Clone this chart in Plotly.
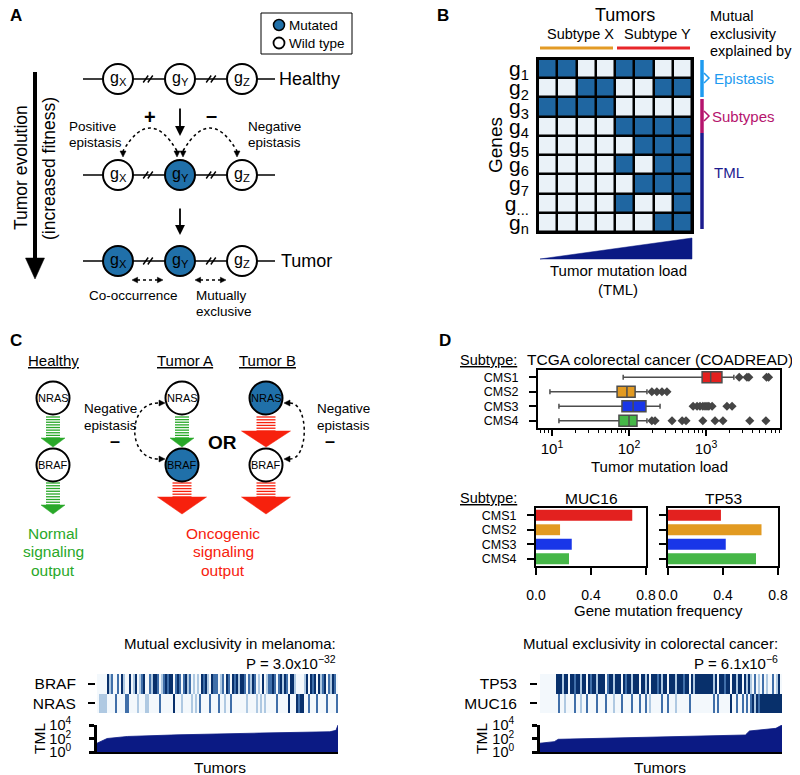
import plotly.graph_objects as go

W, H = 800, 775
OFF = 8  # page body margin of the browser
FW, FH = W - OFF, H - OFF
FONT = "Liberation Sans, Arial, Helvetica, sans-serif"
MUT = "#2070a9"
NAVY = "#0b1a84"

# ---------------- data ----------------
gene_labels = ["g<sub>1</sub>", "g<sub>2</sub>", "g<sub>3</sub>", "g<sub>4</sub>", "g<sub>5</sub>",
               "g<sub>6</sub>", "g<sub>7</sub>", "g<sub>...</sub>", "g<sub>n</sub>"]
tumors_B = [0, 1, 2, 3, 4, 5, 6, 7]
mutation_matrix = [
    [1, 1, 0, 0, 1, 1, 0, 0],
    [0, 0, 1, 1, 0, 0, 1, 1],
    [1, 1, 1, 1, 0, 0, 0, 0],
    [0, 0, 0, 0, 1, 1, 1, 1],
    [0, 0, 0, 0, 0, 1, 1, 1],
    [0, 0, 0, 0, 1, 0, 1, 1],
    [0, 0, 0, 0, 0, 1, 1, 1],
    [0, 0, 0, 0, 1, 0, 0, 1],
    [0, 0, 0, 0, 0, 0, 1, 1],
]

subtypes = ["CMS1", "CMS2", "CMS3", "CMS4"]
subtype_colors = ["#e3211f", "#e29a21", "#1936e8", "#46b748"]
tml_low = [84, 9.4, 12.3, 12.3]
tml_q1 = [890, 70, 81, 74]
tml_median = [1150, 94, 113, 100]
tml_q3 = [1610, 120, 166, 127]
tml_high = [2300, 171, 253, 171]
tml_outliers = [
    [2700, 3400, 3600, 6100, 6500],
    [198, 230, 268, 311],
    [680, 765, 835, 910, 970, 1030, 1090, 1200, 1870, 2180],
    [198, 218, 362, 490, 550, 910, 1310, 1660, 3700, 6000],
]
muc16_freq = [0.70, 0.175, 0.26, 0.24]
tp53_freq = [0.385, 0.68, 0.42, 0.64]

braf_mel = [0, 0, 0, 0, 0, 3, 1, 2, 0, 0, 2, 0, 3, 1, 0, 0, 3, 0, 1, 3,
            0, 1, 2, 3, 0, 0, 2, 1, 3, 3, 2, 0, 1, 2, 3, 2, 3, 3, 0, 2,
            3, 2, 0, 2, 3, 1, 2, 0, 1, 0, 1, 0, 3, 2, 3, 1, 0, 3, 2, 2,
            0, 1, 2, 0, 3, 2, 0, 3, 2, 3, 1, 3, 3, 2, 0, 2, 1, 3, 2, 0,
            1, 0, 3, 0, 1, 2, 2, 3, 2, 0, 2, 3, 1, 3, 2, 0, 3, 3, 1, 0,
            0, 0, 0, 1, 3, 0, 3, 2, 3, 0, 3, 1, 2, 3, 0, 2, 1, 3, 2, 0]
nras_mel = [0, 1, 1, 1, 1, 0, 0, 0, 0, 2, 0, 0, 0, 0, 2, 2, 0, 0, 0, 0,
            1, 0, 0, 0, 1, 1, 0, 0, 0, 0, 0, 2, 0, 0, 0, 0, 0, 0, 3, 0,
            0, 0, 1, 0, 0, 0, 0, 1, 0, 1, 0, 2, 0, 0, 0, 0, 2, 0, 0, 0,
            2, 0, 0, 1, 0, 0, 2, 0, 0, 0, 0, 0, 0, 0, 1, 0, 0, 0, 0, 1,
            0, 1, 0, 1, 0, 0, 0, 0, 0, 2, 0, 0, 0, 0, 0, 3, 0, 0, 0, 3,
            2, 3, 3, 0, 0, 2, 0, 0, 0, 2, 0, 0, 0, 0, 2, 0, 0, 0, 0, 2]
tp53_crc = [0, 0, 0, 0, 0, 0, 0, 0, 3, 3, 3, 1, 3, 3, 0, 3, 3, 2, 3, 3,
            1, 3, 3, 0, 3, 2, 3, 3, 1, 3, 3, 3, 0, 2, 3, 3, 1, 3, 3, 3,
            0, 3, 2, 3, 3, 1, 3, 3, 3, 0, 3, 3, 1, 3, 0, 3, 3, 3, 2, 3,
            1, 3, 3, 0, 3, 3, 3, 1, 3, 3, 3, 2, 3, 3, 0, 3, 1, 3, 3, 3,
            3, 3, 3, 3, 3, 3, 1, 3, 0, 3, 3, 2, 3, 3, 0, 3, 3, 1, 3, 3,
            0, 3, 1, 3, 1, 0, 2, 0, 1, 0, 2, 0, 1, 0, 0, 2, 0, 1, 3, 0]
muc16_crc = [0, 0, 0, 0, 0, 0, 0, 0, 0, 2, 0, 0, 1, 0, 0, 0, 0, 2, 0, 0,
             1, 0, 0, 2, 0, 0, 0, 0, 2, 0, 0, 0, 2, 0, 0, 0, 1, 0, 0, 0,
             2, 0, 0, 0, 0, 2, 0, 0, 0, 2, 0, 0, 2, 0, 1, 0, 0, 0, 0, 0,
             2, 0, 0, 2, 0, 0, 0, 1, 0, 0, 0, 0, 0, 0, 2, 0, 0, 0, 0, 0,
             0, 0, 0, 0, 0, 0, 2, 0, 2, 0, 0, 0, 0, 0, 3, 0, 0, 2, 0, 0,
             2, 0, 2, 0, 2, 3, 1, 3, 2, 3, 3, 3, 3, 3, 3, 3, 3, 3, 3, 3]
tumor_idx = list(range(120))
tml_mel_rank = [0, 5, 15, 40, 80, 115, 118, 119]
tml_mel_value = [20, 100, 200, 350, 630, 1000, 1600, 10000]
tml_crc_rank = [0, 7, 9, 46, 101, 103, 116, 119]
tml_crc_value = [20, 34, 76, 150, 330, 1300, 3200, 10000]

# ---------------- helpers ----------------
shapes, annotations = [], []


def txt(x, y, s, size=14, color="black", xanchor="center", yanchor="middle", angle=0, bold=False):
    if bold:
        s = f"<b>{s}</b>"
    annotations.append(dict(x=x, y=y, xref="x9", yref="y9", text=s, showarrow=False,
                            font=dict(size=size, color=color, family=FONT),
                            xanchor=xanchor, yanchor=yanchor, textangle=angle))


def line(x0, y0, x1, y1, color="black", width=1.5, dash=None):
    shapes.append(dict(type="line", xref="x9", yref="y9", x0=x0, y0=y0, x1=x1, y1=y1,
                       line=dict(color=color, width=width, dash=dash), layer="above"))


def circle(cx, cy, r, fill="white", lw=2):
    shapes.append(dict(type="circle", xref="x9", yref="y9", x0=cx - r, x1=cx + r, y0=cy - r, y1=cy + r,
                       fillcolor=fill, line=dict(color="black", width=lw), layer="above"))


def path(d, fill=None, color="black", width=1.5, dash=None):
    shapes.append(dict(type="path", path=d, xref="x9", yref="y9",
                       fillcolor=fill if fill else "rgba(0,0,0,0)",
                       line=dict(color=color, width=width, dash=dash), layer="above"))


def poly(pts, color="black"):
    d = "M " + " L ".join(f"{x} {y}" for x, y in pts) + " Z"
    path(d, fill=color, color=color, width=0.5)


def head(x, y, direction, s=3.2, color="black"):
    if direction == "down":
        pts = [(x - s, y - 2 * s), (x + s, y - 2 * s), (x, y)]
    elif direction == "up":
        pts = [(x - s, y + 2 * s), (x + s, y + 2 * s), (x, y)]
    elif direction == "left":
        pts = [(x + 2 * s, y - s), (x + 2 * s, y + s), (x, y)]
    else:
        pts = [(x - 2 * s, y - s), (x - 2 * s, y + s), (x, y)]
    poly(pts, color)


def arrow(x0, y0, x1, y1, width=1.8):
    annotations.append(dict(x=x1, y=y1, ax=x0, ay=y0, xref="x9", yref="y9", axref="x9", ayref="y9",
                            showarrow=True, arrowhead=2, arrowsize=1.1, arrowwidth=width,
                            arrowcolor="black", text=""))


def striped_arrow(cx, y0, y1, ytip, shaft_w, head_w, color):
    n = max(2, int(round((y1 - y0) / 2.6)))
    for i in range(n + 1):
        yy = y0 + i * (y1 - y0) / n
        line(cx - shaft_w / 2, yy, cx + shaft_w / 2, yy, color=color, width=1.3)
    poly([(cx - head_w / 2, y1), (cx + head_w / 2, y1), (cx, ytip)], color)


def xd(a, b):
    return [(a - OFF) / FW, (b - OFF) / FW]


def xp(a):
    return (a - OFF) / FW


def yd(top, bottom):
    return [1 - (bottom - OFF) / FH, 1 - (top - OFF) / FH]


fig = go.Figure()

# ---------------- Panel A ----------------
txt(8, 15, "A", 17, xanchor="left", bold=True)
shapes.append(dict(type="rect", xref="x9", yref="y9", x0=261, x1=352, y0=13, y1=54,
                   line=dict(color="black", width=1), fillcolor="white", layer="above"))
circle(279, 25, 5.5, fill=MUT, lw=1.5)
circle(279, 43, 5.5, fill="white", lw=1.8)
txt(287, 25, "Mutated", 13.5, xanchor="left")
txt(287, 43, "Wild type", 13.5, xanchor="left")

line(35, 72, 35, 262, width=4)
poly([(25.5, 258), (44.5, 258), (35, 279)])
txt(21, 168, "Tumor evolution", 17.5, angle=-90)
txt(49, 169, "(increased fitness)", 17.5, angle=-90)

rowsA = [79, 175, 261]
statesA = [[0, 0, 0], [0, 1, 0], [1, 1, 0]]
gxs = [118, 180, 242]
for y, st in zip(rowsA, statesA):
    line(83, y, 275, y, width=1.5)
    for sx in (148, 211):
        for o in (-2.3, 2.3):
            line(sx + o - 2.5, y + 3.5, sx + o + 2.5, y - 3.5, width=1.4)
    for cx, m, lab in zip(gxs, st, ["X", "Y", "Z"]):
        circle(cx, y, 15, fill=MUT if m else "white")
        txt(cx, y - 1, f"g<sub>{lab}</sub>", 16)
txt(277, 79, "Healthy", 18, xanchor="left")
txt(279, 261, "Tumor", 18, xanchor="left")

arrow(180, 107, 180, 136)
arrow(180, 207, 180, 235)
txt(150, 117, "+", 20, bold=True)
txt(211, 115, "–", 20, bold=True)
txt(67, 126, "Positive", 13.5, xanchor="left")
txt(67, 142, "epistasis", 13.5, xanchor="left")
txt(246, 126, "Negative", 13.5, xanchor="left")
txt(246, 142, "epistasis", 13.5, xanchor="left")
path("M 177 151 Q 150 105 123 151", dash="dot", width=1.5)
path("M 183 151 Q 210 105 237 151", dash="dot", width=1.5)
for hx in (123, 177, 183, 237):
    head(hx, 157, "down", s=3)
for x0, x1 in ((132, 163), (195, 226)):
    path(f"M {x0 + 5} 280 L {x1 - 5} 280", dash="dot", width=1.5)
    head(x0, 280, "left", s=2.8)
    head(x1, 280, "right", s=2.8)
txt(133, 295, "Co-occurrence", 13.5)
txt(194, 295, "Mutually", 13.5, xanchor="left")
txt(194, 311, "exclusive", 13.5, xanchor="left")

# ---------------- Panel C ----------------
GREEN = "#29a829"
RED = "#f7210d"
txt(8, 340, "C", 17, xanchor="left", bold=True)
txt(53, 360, "<u>Healthy</u>", 15)
txt(185, 360, "<u>Tumor A</u>", 15)
txt(267, 360, "<u>Tumor B</u>", 15)
cols_C = [53, 182, 266]
nras_mut = [0, 0, 1]
braf_mut = [0, 1, 0]
striped_arrow(53, 417, 438, 447, 14, 24, GREEN)
striped_arrow(53, 483, 505, 514, 14, 24, GREEN)
striped_arrow(182, 417, 438, 447, 14, 24, GREEN)
striped_arrow(182, 483, 497, 514, 19, 49, RED)
striped_arrow(266, 417, 431, 447, 19, 49, RED)
striped_arrow(266, 483, 497, 514, 19, 49, RED)
for cx, nm, bm in zip(cols_C, nras_mut, braf_mut):
    circle(cx, 398, 16.5, fill=MUT if nm else "white")
    circle(cx, 465, 16.5, fill=MUT if bm else "white")
    txt(cx, 398, "NRAS", 11)
    txt(cx, 465, "BRAF", 11)
txt(82, 408, "Negative", 13.5, xanchor="left")
txt(82, 425, "epistasis", 13.5, xanchor="left")
txt(115, 441, "–", 18, bold=True)
txt(315, 408, "Negative", 13.5, xanchor="left")
txt(315, 425, "epistasis", 13.5, xanchor="left")
txt(330, 441, "–", 18, bold=True)
path("M 158 403 C 127 403, 127 459, 158 459", dash="dot", width=1.5)
head(165, 403, "right", s=3)
head(165, 459, "right", s=3)
path("M 290 403 C 309 403, 309 459, 290 459", dash="dot", width=1.5)
head(284, 403, "left", s=3)
head(284, 459, "left", s=3)
txt(222, 442, "OR", 19, bold=True)
for i, w in enumerate(["Normal", "signaling", "output"]):
    txt(53, 533 + 18.5 * i, w, 15.5, color=GREEN)
for i, w in enumerate(["Oncogenic", "signaling", "output"]):
    txt(223, 533 + 18.5 * i, w, 15.5, color=RED)

# ---------------- Panel B ----------------
txt(435, 15, "B", 17, xanchor="left", bold=True)
txt(625, 15, "Tumors", 18)
txt(580, 34, "Subtype X", 14.5)
txt(657, 34, "Subtype Y", 14.5)
line(540, 48, 613, 48, color="#e39b26", width=3)
line(617, 48, 690, 48, color="#e8262a", width=3)
txt(495, 145, "Genes", 19, angle=-90)
for i, w in enumerate(["Mutual", "exclusivity", "explained by:"]):
    txt(708, 16 + 17.5 * i, w, 14.5, xanchor="left")
line(702, 60, 702, 97, color="#1e9bf0", width=3.5)
path("M 704 73 L 709 78 L 704 83", color="#1e9bf0", width=1.5)
line(702, 99, 702, 133, color="#b5146d", width=3.5)
path("M 704 111 L 709 116 L 704 121", color="#b5146d", width=1.5)
line(702, 133, 702, 229, color="#1c1c8f", width=3.5)
txt(712, 78, "Epistasis", 15, color="#1e9bf0", xanchor="left")
txt(710, 116, "Subtypes", 15, color="#b5146d", xanchor="left")
txt(712, 172, "TML", 15, color="#1c1c8f", xanchor="left")
poly([(540, 259), (692, 238), (692, 259)], color=NAVY)
txt(618, 270, "Tumor mutation load", 15)
txt(618, 289, "(TML)", 15)

fig.add_trace(go.Heatmap(z=[[1] * len(tumors_B) for _ in gene_labels], x=tumors_B,
                         y=list(range(len(gene_labels))),
                         colorscale=[[0, "black"], [1, "black"]], showscale=False,
                         hoverinfo="skip", xaxis="x", yaxis="y"))
fig.add_trace(go.Heatmap(z=mutation_matrix, x=tumors_B, y=list(range(len(gene_labels))),
                         colorscale=[[0, "#eaf2f8"], [1, "#1f66a1"]], zmin=0, zmax=1,
                         xgap=2.5, ygap=2.5, showscale=False, hoverinfo="skip",
                         xaxis="x", yaxis="y"))

# ---------------- Panel D ----------------
txt(437, 340, "D", 17, xanchor="left", bold=True)
txt(519, 360, "<u>Subtype:</u>", 14.5, xanchor="right")
txt(519, 498, "<u>Subtype:</u>", 14.5, xanchor="right")
txt(660, 359, "TCGA colorectal cancer (COADREAD)", 15.5)
txt(659, 466, "Tumor mutation load", 15)
txt(591, 498, "MUC16", 15.5)
txt(723, 498, "TP53", 15.5)
txt(658, 610, "Gene mutation frequency", 15)

for i, s in enumerate(subtypes):
    fig.add_trace(go.Box(y=[s], q1=[tml_q1[i]], median=[tml_median[i]], q3=[tml_q3[i]],
                         lowerfence=[tml_low[i]], upperfence=[tml_high[i]], orientation="h",
                         fillcolor=subtype_colors[i], line=dict(color="#4d4d4d", width=1.5),
                         width=0.75, whiskerwidth=0.45, boxpoints=False,
                         xaxis="x2", yaxis="y2", hoverinfo="skip"))
    fig.add_trace(go.Scatter(x=tml_outliers[i], y=[s] * len(tml_outliers[i]), mode="markers",
                             marker=dict(symbol="diamond", size=7, color="#454545"),
                             xaxis="x2", yaxis="y2", hoverinfo="skip"))

fig.add_trace(go.Bar(x=muc16_freq, y=subtypes, orientation="h", width=0.75,
                     marker=dict(color=subtype_colors, line=dict(width=0)),
                     xaxis="x3", yaxis="y3", hoverinfo="skip"))
fig.add_trace(go.Bar(x=tp53_freq, y=subtypes, orientation="h", width=0.75,
                     marker=dict(color=subtype_colors, line=dict(width=0)),
                     xaxis="x4", yaxis="y4", hoverinfo="skip"))

# ---------------- bottom panels ----------------
barcode_scale = [[0, "#f3f8fc"], [0.34, "#aec8e1"], [0.67, "#3f6ea8"], [1, "#08306b"]]
fig.add_trace(go.Heatmap(z=[braf_mel, nras_mel], x=tumor_idx, y=[0, 1], zmin=0, zmax=3,
                         colorscale=barcode_scale, showscale=False, hoverinfo="skip",
                         xaxis="x5", yaxis="y5"))
fig.add_trace(go.Heatmap(z=[tp53_crc, muc16_crc], x=tumor_idx, y=[0, 1], zmin=0, zmax=3,
                         colorscale=barcode_scale, showscale=False, hoverinfo="skip",
                         xaxis="x7", yaxis="y7"))
for rank, val, xa, ya in ((tml_mel_rank, tml_mel_value, "x6", "y6"),
                          (tml_crc_rank, tml_crc_value, "x8", "y8")):
    fig.add_trace(go.Scatter(x=[rank[0], rank[-1]], y=[1, 1], mode="lines",
                             line=dict(width=0, color=NAVY), xaxis=xa, yaxis=ya, hoverinfo="skip"))
    fig.add_trace(go.Scatter(x=rank, y=val, mode="lines", fill="tonexty", fillcolor=NAVY,
                             line=dict(width=0.8, color=NAVY), xaxis=xa, yaxis=ya, hoverinfo="skip"))

txt(338, 643, "Mutual exclusivity in melanoma:", 15, xanchor="right")
txt(338, 662, "P = 3.0x10<sup>−32</sup>", 15, xanchor="right")
txt(780, 643, "Mutual exclusivity in colorectal cancer:", 15, xanchor="right")
txt(780, 662, "P = 6.1x10<sup>−6</sup>", 15, xanchor="right")
txt(39, 739, "TML", 15.5, angle=-90)
txt(481, 739, "TML", 15.5, angle=-90)
txt(220, 767, "Tumors", 15.5)
txt(660, 767, "Tumors", 15.5)

fig.add_trace(go.Scatter(x=[None], y=[None], xaxis="x9", yaxis="y9", hoverinfo="skip"))

# ---------------- layout ----------------
frame = dict(showline=True, mirror=True, linecolor="black", linewidth=2, showgrid=False,
             zeroline=False, fixedrange=True, automargin=False)
plain = dict(showgrid=False, zeroline=False, fixedrange=True, automargin=False)
tickf = dict(family=FONT, color="black")
cat_y = dict(type="category", categoryorder="array", categoryarray=subtypes, tickmode="array",
             tickvals=subtypes, ticktext=subtypes, range=[3.5, -0.5], ticks="outside", ticklen=7,
             tickwidth=1.5, tickcolor="black", ticklabelstandoff=8)
tml_y = dict(type="log", range=[0, 4], tickvals=[1, 100, 10000],
             ticktext=["10<sup>0</sup>", "10<sup>2</sup>", "10<sup>4</sup>"], ticks="outside",
             ticklen=5, tickwidth=3, tickcolor="black", showline=True, linecolor="black",
             linewidth=3, tickfont=dict(size=14.5, **tickf), ticklabelstandoff=15)

layout = dict(
    width=FW, height=FH, margin=dict(l=0, r=0, t=0, b=0, pad=0, autoexpand=False),
    paper_bgcolor="white", plot_bgcolor="rgba(0,0,0,0)", showlegend=False,
    font=dict(family=FONT, color="black"),
    shapes=shapes, annotations=annotations,
    xaxis=dict(domain=xd(538, 692), range=[-0.5, 7.5], showticklabels=False, ticks="",
               anchor="y", **frame),
    yaxis=dict(domain=yd(59, 232), range=[8.5, -0.5], tickmode="array", tickvals=list(range(9)),
               ticktext=gene_labels, ticks="", tickfont=dict(size=21, **tickf), ticklabelstandoff=3,
               anchor="x", **frame),
    xaxis2=dict(domain=xd(538, 780), type="log", range=[0.818, 3.961], tickvals=[10, 100, 1000],
                ticktext=["10<sup>1</sup>", "10<sup>2</sup>", "10<sup>3</sup>"], ticks="outside",
                ticklen=6, tickwidth=1.5, tickcolor="black", tickfont=dict(size=15, **tickf),
                minor=dict(ticks="outside", ticklen=3, tickwidth=1, tickcolor="black",
                           tickvals=[m * d for d in (1, 10, 100, 1000) for m in range(2, 10)]),
                anchor="y2", **frame),
    yaxis2=dict(domain=yd(370, 428), tickfont=dict(size=12.5, **tickf), anchor="x2", **cat_y, **frame),
    xaxis3=dict(domain=xd(536, 646), range=[0, 0.8], tickvals=[0, 0.4, 0.8],
                ticktext=["0.0", "0.4", "0.8"], ticks="outside", ticklen=7, tickwidth=1.5,
                tickcolor="black", tickfont=dict(size=14, **tickf), ticklabelstandoff=8,
                anchor="y3", **frame),
    yaxis3=dict(domain=yd(508, 566), tickfont=dict(size=12.5, **tickf), anchor="x3", **cat_y, **frame),
    xaxis4=dict(domain=xd(668, 778), range=[0, 0.8], tickvals=[0, 0.4, 0.8],
                ticktext=["0.0", "0.4", "0.8"], ticks="outside", ticklen=7, tickwidth=1.5,
                tickcolor="black", tickfont=dict(size=14, **tickf), ticklabelstandoff=8,
                anchor="y4", **frame),
    yaxis4=dict(domain=yd(508, 566), showticklabels=False, anchor="x4", **cat_y, **frame),
    xaxis5=dict(domain=xd(97, 338), range=[-0.5, 119.5], visible=False, anchor="y5", **plain),
    yaxis5=dict(domain=yd(674, 713), range=[1.5, -0.5], tickmode="array", tickvals=[0, 1],
                ticktext=["BRAF", "NRAS"], ticks="outside", ticklen=7, tickwidth=1.5, tickcolor="black",
                showline=False, tickfont=dict(size=15.5, **tickf), ticklabelstandoff=9,
                anchor="free", position=xp(95), **plain),
    xaxis6=dict(domain=xd(97, 338), range=[0, 119], showticklabels=False, ticks="", showline=True,
                linecolor="black", linewidth=2, anchor="y6", **plain),
    yaxis6=dict(domain=yd(725, 752), anchor="x6", **tml_y, **plain),
    xaxis7=dict(domain=xd(540, 782), range=[-0.5, 119.5], visible=False, anchor="y7", **plain),
    yaxis7=dict(domain=yd(674, 713), range=[1.5, -0.5], tickmode="array", tickvals=[0, 1],
                ticktext=["TP53", "MUC16"], ticks="outside", ticklen=7, tickwidth=1.5, tickcolor="black",
                showline=False, tickfont=dict(size=15.5, **tickf), ticklabelstandoff=10,
                anchor="free", position=xp(537), **plain),
    xaxis8=dict(domain=xd(540, 782), range=[0, 119], showticklabels=False, ticks="", showline=True,
                linecolor="black", linewidth=2, anchor="y8", **plain),
    yaxis8=dict(domain=yd(725, 752), anchor="x8", **tml_y, **plain),
    xaxis9=dict(domain=[0, 1], range=[OFF, W], visible=False, anchor="y9", **plain),
    yaxis9=dict(domain=[0, 1], range=[H, OFF], visible=False, anchor="x9", **plain),
)
fig.update_layout(**layout)
fig.write_html("out.html")
